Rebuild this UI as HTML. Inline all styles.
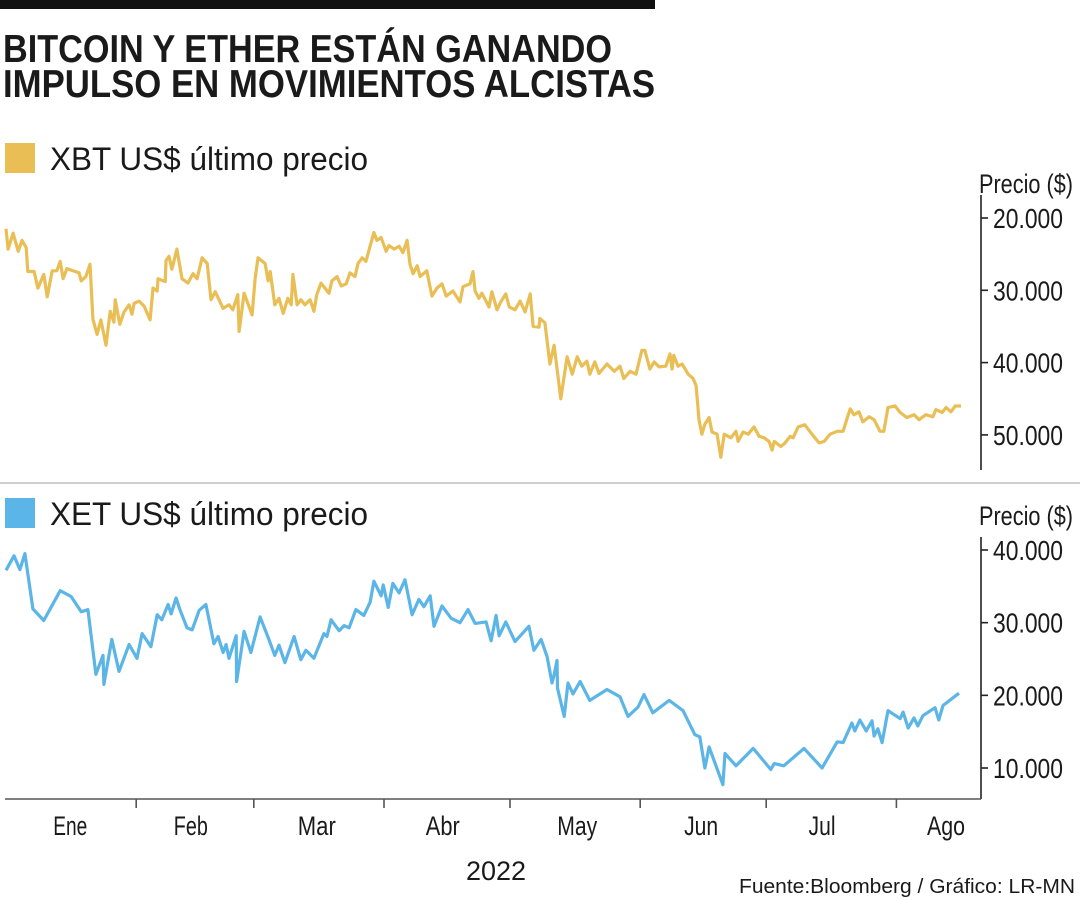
<!DOCTYPE html>
<html><head><meta charset="utf-8">
<style>
html,body{margin:0;padding:0;background:#fff;}
svg{display:block;}
text{font-family:"Liberation Sans",sans-serif;fill:#1a1a1a;}
</style></head>
<body>
<svg id="chart" width="1080" height="900" viewBox="0 0 1080 900" xmlns="http://www.w3.org/2000/svg">
  <rect x="0" y="0" width="655" height="9" fill="#111"/>
  <text x="3" y="62" font-size="39" font-weight="bold" textLength="609" lengthAdjust="spacingAndGlyphs">BITCOIN Y ETHER ESTÁN GANANDO</text>
  <text x="3" y="97" font-size="39" font-weight="bold" textLength="652" lengthAdjust="spacingAndGlyphs">IMPULSO EN MOVIMIENTOS ALCISTAS</text>

  <rect x="5" y="143" width="30" height="30" fill="#E9BE55"/>
  <text x="50" y="170" font-size="32" textLength="318" lengthAdjust="spacingAndGlyphs" fill="#222">XBT US$ último precio</text>
  <text x="979" y="193" font-size="27" textLength="94" lengthAdjust="spacingAndGlyphs">Precio ($)</text>

  <line x1="0" y1="483" x2="1080" y2="483" stroke="#cfcfcf" stroke-width="2"/>

  <rect x="5" y="498" width="30" height="30" fill="#5BB5E6"/>
  <text x="50" y="525" font-size="32" textLength="318" lengthAdjust="spacingAndGlyphs" fill="#222">XET US$ último precio</text>
  <text x="979" y="525" font-size="27" textLength="94" lengthAdjust="spacingAndGlyphs">Precio ($)</text>

  <g id="gTop"></g>
  <g id="gBot"></g>
  <g id="gX"></g>

  <text x="496" y="880" font-size="27" text-anchor="middle">2022</text>
  <text x="1075" y="893" font-size="20" text-anchor="end" textLength="336" lengthAdjust="spacingAndGlyphs" fill="#333">Fuente:Bloomberg / Gráfico: LR-MN</text>
</svg>
<script>
// ---- data ----
const xbtDays = [0,0.5,1.7,2.9,3.8,4.8,5.2,6.7,7.6,9.0,9.8,11.0,12.1,12.9,13.6,14.5,17.4,17.9,19.0,20.0,20.7,21.7,22.6,23.8,24.8,25.7,26.0,27.1,28.1,29.3,30.0,30.5,31.7,32.9,34.3,35.0,36.0,36.2,37.9,38.1,38.8,39.5,40.7,41.9,43.3,44.5,45.5,46.7,47.9,48.8,49.8,51.7,53.1,54.0,55.2,55.5,56.7,58.6,59.3,60.0,61.7,62.4,62.9,64.0,65.0,66.0,67.1,67.9,68.3,69.3,70.2,71.2,72.4,73.3,74.0,75.0,76.9,77.6,78.8,79.8,81.0,81.9,83.1,83.8,84.8,85.7,86.7,87.6,88.3,89.3,90.5,91.2,92.4,93.6,94.5,95.5,96.2,96.9,97.9,98.6,100.2,101.4,102.6,103.8,104.8,106.4,108.1,108.8,110.5,111.2,111.7,112.6,113.3,115.0,115.7,116.9,117.9,119.0,119.8,121.2,122.4,123.6,124.8,125.5,126.9,127.1,128.3,129.5,130.5,132.1,133.6,134.8,136.0,137.1,138.3,139.0,140.2,141.2,143.1,144.8,146.2,147.1,148.6,150.0,151.4,152.1,153.3,154.3,155.5,157.1,158.1,158.6,159.0,160.0,161.0,162.4,163.6,164.3,165.0,165.7,166.4,167.4,168.1,169.3,170.2,171.0,172.6,173.8,174.3,175.5,176.7,178.1,179.3,180.5,181.7,182.4,182.9,184.5,185.5,186.7,187.4,188.6,190.2,191.9,193.6,194.8,196.2,197.9,199.3,200.0,201.0,201.9,203.1,204.0,205.5,206.7,208.1,209.0,210.0,211.7,212.9,214.5,216.2,217.4,219.0,220.7,221.4,222.9,223.8,225.0,226.0,227.4];
const xbtValues = [21500,24300,22100,24600,23100,24100,27400,27400,29700,27800,30900,27300,27300,26000,28400,27000,27600,28700,28100,26400,34000,36100,34100,37600,32900,34400,31300,34700,33000,32000,33300,31800,31500,32200,34100,29700,30100,28400,28800,25900,25300,27100,24300,28400,29000,27700,28400,25500,26300,31300,30200,32500,32000,32700,30600,35700,30400,33400,28400,25500,26300,28700,27400,32000,31100,33200,31100,32000,27800,32000,31300,32000,31300,32900,30600,29000,30400,28700,28100,29400,29100,27600,28100,26300,25500,26000,23900,22000,23100,22700,24600,23800,24300,23900,24800,23100,26400,27700,26600,28100,27300,30800,29700,29100,30800,30100,31600,29500,29100,27400,30100,31100,30400,32300,30200,32700,31500,30500,32300,32700,31500,33000,30500,35000,35100,33900,34500,40200,37600,45000,39200,41600,39200,40500,39800,41600,39900,41500,40200,41200,40500,42200,41200,41600,38300,38300,40900,39900,40600,40500,38800,40900,39000,40500,40200,41600,42200,43200,47900,49900,48500,47600,49600,49900,53100,49900,50400,49500,50900,49600,49900,48900,50200,50400,50900,52100,50900,51600,51100,50200,50400,48900,48600,49900,51100,50900,49900,49500,49500,48200,46400,47200,46800,48200,47500,47900,49500,49500,46200,46000,46900,47600,47200,47900,47200,47500,46500,46900,46200,46800,46000,46000];

const xetDays = [0,1.9,3.3,4.5,6.4,9.0,12.9,15.5,17.9,19.5,21.4,23.1,23.3,25.2,26.9,29.3,31.2,32.4,34.5,36.0,37.1,38.6,39.3,40.5,41.4,43.1,44.3,46.0,47.6,49.5,50.5,51.7,52.4,53.1,54.8,54.9,56.7,58.3,60.5,62.6,64.0,65.0,66.4,68.6,70.2,71.4,73.3,75.7,76.4,77.4,79.3,80.5,81.7,83.3,85.2,86.7,87.6,89.3,89.8,91.0,92.1,93.6,95.0,96.7,98.3,99.5,101.0,101.9,103.8,106.0,108.1,110.0,111.7,114.3,115.5,116.7,117.4,119.0,121.2,124.5,125.7,127.4,128.6,128.8,130.0,130.5,131.2,131.3,132.9,133.8,135.0,136.7,139.0,143.1,146.2,148.1,150.5,151.9,154.0,157.9,161.2,164.0,165.2,166.4,167.4,170.7,171.2,173.8,177.9,182.1,182.9,185.2,190.0,194.3,197.9,199.3,201.4,202.1,203.3,204.8,206.2,206.7,207.6,208.6,210.0,212.9,213.6,214.8,216.2,217.1,218.3,221.2,222.1,223.1,226.9];
const xetValues = [37200,39200,37300,39500,31900,30300,34400,33600,31500,31800,22900,25500,21500,27700,23300,27000,25100,28500,26700,31100,30400,32500,31200,33400,31800,29300,29000,31700,32500,27100,28100,25900,27000,25100,28200,21900,28800,25900,30800,27700,25500,26900,24500,28100,24900,26200,25100,28500,28100,30400,28900,29600,29300,31800,31000,32800,35700,33700,35200,32100,35400,34100,35900,31100,33200,32200,33700,29500,32300,30600,30000,31800,29900,30100,27500,31000,28200,30100,27400,29500,26200,27700,25700,25400,21700,22800,24800,21000,17100,21700,20200,21900,19300,20800,19800,17100,18400,20100,17600,19300,17900,14600,14300,10000,12900,7700,12000,10300,12700,9800,10600,10300,12700,10000,13600,13500,16200,15100,16600,15100,16500,14400,15400,13500,17900,16800,17700,15500,16900,15800,17200,18300,16600,18600,20300];

const yTicksTop = [20000,30000,40000,50000];
const yTicksBot = [10000,20000,30000,40000];
const tickLabelsTop = ["20.000","30.000","40.000","50.000"];
const tickLabelsBot = ["10.000","20.000","30.000","40.000"];
const monthStarts = [31,59,90,120,151,181,212];
const monthLabels = ["Ene","Feb","Mar","Abr","May","Jun","Jul","Ago"];
const monthLabelDays = [15.3,44,74,104,136,165.5,194.3,223.8];
const monthLabelWidths = [34,34,38,34,40,34,27,38];

// ---- scales ----
const NS = "http://www.w3.org/2000/svg";
const AX = 981;
function xScale(d){ return 6 + d*4.2; }
function yTop(v){ return 218 + (v-20000)*0.00723; }   // inverted axis as in source
function yBot(v){ return 550 + (40000-v)*0.007267; }
function mk(tag, attrs, parent){
  const e = document.createElementNS(NS, tag);
  for (const k in attrs) e.setAttribute(k, attrs[k]);
  parent.appendChild(e);
  return e;
}

const gTop = document.getElementById('gTop');
const gBot = document.getElementById('gBot');
const gX = document.getElementById('gX');

// top axis
let ax1 = mk('line',{x1:AX,y1:195,x2:AX,y2:470,stroke:'#222','stroke-width':1.6},gTop);


yTicksTop.forEach((v,i)=>{
  const t = mk('line',{x1:AX,y1:yTop(v),x2:AX+7,y2:yTop(v),stroke:'#222','stroke-width':1.6},gTop);
  
  
  const l = mk('text',{x:993,y:yTop(v)+10,'font-size':28,textLength:70,lengthAdjust:'spacingAndGlyphs'},gTop);
  l.textContent = tickLabelsTop[i];
  
  
});
let p1 = mk('polyline',{fill:'none',stroke:'#E9BE55','stroke-width':3.2,'stroke-linejoin':'round',
  points: xbtDays.map((d,i)=>xScale(d).toFixed(1)+','+yTop(xbtValues[i]).toFixed(1)).join(' ')},gTop);



// bottom axis
let ax2 = mk('line',{x1:AX,y1:537,x2:AX,y2:799,stroke:'#222','stroke-width':1.6},gBot);


yTicksBot.forEach((v,i)=>{
  const t = mk('line',{x1:AX,y1:yBot(v),x2:AX+7,y2:yBot(v),stroke:'#222','stroke-width':1.6},gBot);
  
  
  const l = mk('text',{x:993,y:yBot(v)+10,'font-size':28,textLength:70,lengthAdjust:'spacingAndGlyphs'},gBot);
  l.textContent = tickLabelsBot[i];
  
  
});
let p2 = mk('polyline',{fill:'none',stroke:'#5BB5E6','stroke-width':3.2,'stroke-linejoin':'round',
  points: xetDays.map((d,i)=>xScale(d).toFixed(1)+','+yBot(xetValues[i]).toFixed(1)).join(' ')},gBot);



// x axis
let xl = mk('line',{x1:5,y1:799,x2:AX,y2:799,stroke:'#555','stroke-width':1.6},gX);


monthStarts.forEach(d=>{
  const t = mk('line',{x1:xScale(d),y1:799,x2:xScale(d),y2:808,stroke:'#555','stroke-width':1.6},gX);
  
  
});
monthLabels.forEach((m,i)=>{
  const l = mk('text',{x:xScale(monthLabelDays[i]),y:835,'font-size':27,'text-anchor':'middle',textLength:monthLabelWidths[i],lengthAdjust:'spacingAndGlyphs'},gX);
  l.textContent = m;
  
  
});
</script>
</body></html>
